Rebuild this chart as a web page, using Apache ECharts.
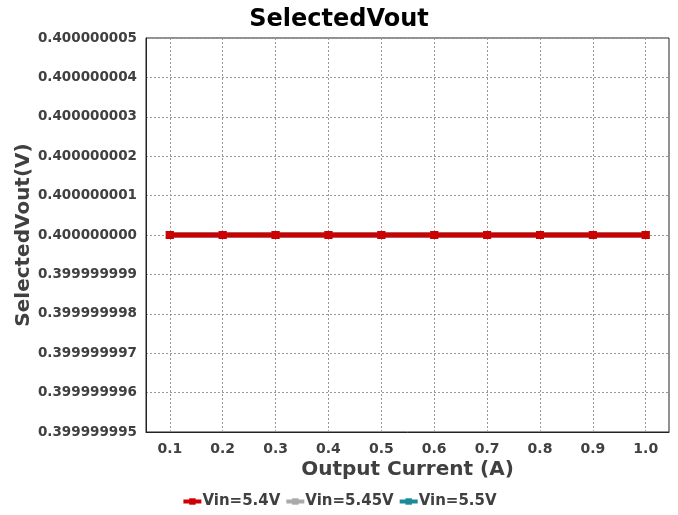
<!DOCTYPE html>
<html>
<head>
<meta charset="utf-8">
<script src="https://cdn.jsdelivr.net/npm/echarts@6/dist/echarts.min.js"></script>
<style>
  html, body { margin: 0; padding: 0; background: #fff; }
  #chart { width: 678px; height: 515px; }
</style>
</head>
<body>
<div id="chart"></div>
<script>
const currents = [0.1, 0.2, 0.3, 0.4, 0.5, 0.6, 0.7, 0.8, 0.9, 1.0];
const vin54 = [0.4, 0.4, 0.4, 0.4, 0.4, 0.4, 0.4, 0.4, 0.4, 0.4];
const vin545 = [0.4, 0.4, 0.4, 0.4, 0.4, 0.4, 0.4, 0.4, 0.4, 0.4];
const vin55 = [0.4, 0.4, 0.4, 0.4, 0.4, 0.4, 0.4, 0.4, 0.4, 0.4];
const seriesNames = ['Vin=5.4V', 'Vin=5.45V', 'Vin=5.5V'];
const seriesColors = ['#cc0000', '#aaaaaa', '#1a8a99'];

const font = 'DejaVu Sans';
const textColor = '#404040';

const pairs = (ys) => currents.map((x, i) => [x, ys[i]]);

const makeSeries = (name, ys, color, z) => ({
  name: name,
  type: 'line',
  data: pairs(ys),
  symbol: 'rect',
  symbolSize: 8,
  z: z,
  lineStyle: { color: color, width: 5 },
  itemStyle: { color: color },
});

const chart = echarts.init(document.getElementById('chart'));
chart.setOption({
  animation: false,
  title: {
    text: 'SelectedVout',
    left: 'center',
    top: 3,
    textStyle: { fontFamily: font, fontSize: 24, fontWeight: 'bold', color: '#000' },
  },
  legend: {
    bottom: 1,
    left: 'center',
    itemWidth: 18,
    itemHeight: 8,
    itemGap: 4,
    data: seriesNames,
    lineStyle: { width: 4 },
    textStyle: { fontFamily: font, fontSize: 15, fontWeight: 'bold', color: textColor, padding: [0, 0, 0, -4] },
  },
  grid: {
    left: 146, right: 9, top: 38, bottom: 83,
    outerBoundsMode: 'none',
    containLabel: false,
    show: true, borderColor: '#222', borderWidth: 1,
  },
  xAxis: {
    type: 'value',
    min: 0.055,
    max: 1.044,
    name: 'Output Current (A)',
    nameLocation: 'middle',
    nameGap: 28,
    nameMoveOverlap: false,
    nameTextStyle: { fontFamily: font, fontSize: 20, fontWeight: 'bold', color: textColor },
    axisLine: { show: true, lineStyle: { color: '#222' } },
    axisTick: { show: false, customValues: currents },
    axisLabel: {
      customValues: currents,
      margin: 10,
      fontFamily: font, fontSize: 14, fontWeight: 'bold', color: textColor,
      formatter: (v) => v.toFixed(1),
    },
    splitLine: { show: true, lineStyle: { color: '#999', type: [2, 2] } },
  },
  yAxis: {
    type: 'value',
    min: 0.399999995,
    max: 0.400000005,
    interval: 0.000000001,
    name: 'SelectedVout(V)',
    nameLocation: 'middle',
    nameGap: 112,
    nameMoveOverlap: false,
    nameTextStyle: { fontFamily: font, fontSize: 20, fontWeight: 'bold', color: textColor },
    axisLine: { show: true, lineStyle: { color: '#222' } },
    axisTick: { show: false },
    axisLabel: {
      margin: 9,
      fontFamily: font, fontSize: 13.5, fontWeight: 'bold', color: textColor,
      formatter: (v) => v.toFixed(9),
    },
    splitLine: { show: true, lineStyle: { color: '#999', type: [2, 2] } },
  },
  series: [
    makeSeries(seriesNames[0], vin54, seriesColors[0], 5),
    makeSeries(seriesNames[1], vin545, seriesColors[1], 4),
    makeSeries(seriesNames[2], vin55, seriesColors[2], 3),
  ],
});
</script>
</body>
</html>
